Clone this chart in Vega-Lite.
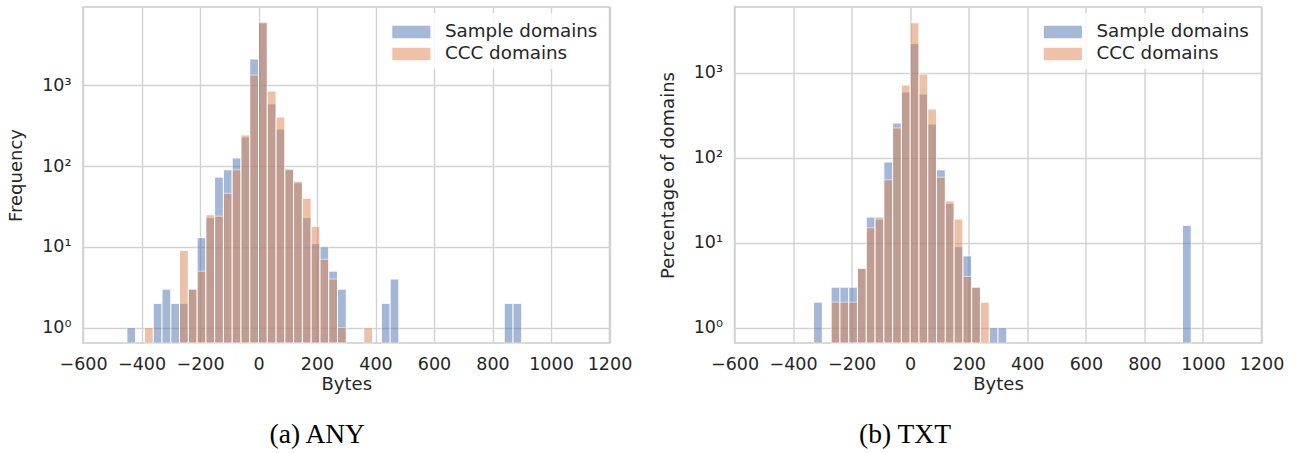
{
  "$schema": "https://vega.github.io/schema/vega-lite/v6.json",
  "background": "white",
  "padding": {"left": 6, "top": 6, "right": 0, "bottom": 0},
  "config": {
    "font": "DejaVu Sans",
    "view": {"stroke": "#cccccc", "strokeWidth": 1.5},
    "axis": {
      "grid": true,
      "gridColor": "#d2d2d2",
      "gridWidth": 1.4,
      "domain": false,
      "ticks": false,
      "tickSize": 0,
      "labelFont": "DejaVu Sans",
      "labelFontSize": 17.5,
      "labelColor": "#262626",
      "labelOverlap": false,
      "titleFont": "DejaVu Sans",
      "titleFontSize": 18,
      "titleFontWeight": "normal",
      "titleColor": "#262626"
    },
    "title": {
      "font": "Liberation Serif",
      "fontSize": 27.5,
      "fontWeight": "normal",
      "color": "#000000"
    }
  },
  "datasets": {
    "any": [
      {"set": "Sample domains", "bin_start": -450, "bin_end": -420, "count": 1},
      {"set": "Sample domains", "bin_start": -360, "bin_end": -330, "count": 2},
      {"set": "Sample domains", "bin_start": -330, "bin_end": -300, "count": 3},
      {"set": "Sample domains", "bin_start": -300, "bin_end": -270, "count": 2},
      {"set": "Sample domains", "bin_start": -270, "bin_end": -240, "count": 2},
      {"set": "Sample domains", "bin_start": -240, "bin_end": -210, "count": 3},
      {"set": "Sample domains", "bin_start": -210, "bin_end": -180, "count": 13},
      {"set": "Sample domains", "bin_start": -180, "bin_end": -150, "count": 23},
      {"set": "Sample domains", "bin_start": -150, "bin_end": -120, "count": 73},
      {"set": "Sample domains", "bin_start": -120, "bin_end": -90, "count": 90},
      {"set": "Sample domains", "bin_start": -90, "bin_end": -60, "count": 126},
      {"set": "Sample domains", "bin_start": -60, "bin_end": -30, "count": 229},
      {"set": "Sample domains", "bin_start": -30, "bin_end": 0, "count": 2115},
      {"set": "Sample domains", "bin_start": 0, "bin_end": 30, "count": 5900},
      {"set": "Sample domains", "bin_start": 30, "bin_end": 60, "count": 588},
      {"set": "Sample domains", "bin_start": 60, "bin_end": 90, "count": 288},
      {"set": "Sample domains", "bin_start": 90, "bin_end": 120, "count": 90},
      {"set": "Sample domains", "bin_start": 120, "bin_end": 150, "count": 62},
      {"set": "Sample domains", "bin_start": 150, "bin_end": 180, "count": 23},
      {"set": "Sample domains", "bin_start": 180, "bin_end": 210, "count": 11},
      {"set": "Sample domains", "bin_start": 210, "bin_end": 240, "count": 10},
      {"set": "Sample domains", "bin_start": 240, "bin_end": 270, "count": 5},
      {"set": "Sample domains", "bin_start": 270, "bin_end": 300, "count": 3},
      {"set": "Sample domains", "bin_start": 420, "bin_end": 450, "count": 2},
      {"set": "Sample domains", "bin_start": 450, "bin_end": 480, "count": 4},
      {"set": "Sample domains", "bin_start": 840, "bin_end": 870, "count": 2},
      {"set": "Sample domains", "bin_start": 870, "bin_end": 900, "count": 2},
      {"set": "CCC domains", "bin_start": -390, "bin_end": -360, "count": 1},
      {"set": "CCC domains", "bin_start": -270, "bin_end": -240, "count": 9},
      {"set": "CCC domains", "bin_start": -240, "bin_end": -210, "count": 3},
      {"set": "CCC domains", "bin_start": -210, "bin_end": -180, "count": 5},
      {"set": "CCC domains", "bin_start": -180, "bin_end": -150, "count": 25},
      {"set": "CCC domains", "bin_start": -150, "bin_end": -120, "count": 24},
      {"set": "CCC domains", "bin_start": -120, "bin_end": -90, "count": 46},
      {"set": "CCC domains", "bin_start": -90, "bin_end": -60, "count": 90},
      {"set": "CCC domains", "bin_start": -60, "bin_end": -30, "count": 243},
      {"set": "CCC domains", "bin_start": -30, "bin_end": 0, "count": 1340},
      {"set": "CCC domains", "bin_start": 0, "bin_end": 30, "count": 6070},
      {"set": "CCC domains", "bin_start": 30, "bin_end": 60, "count": 850},
      {"set": "CCC domains", "bin_start": 60, "bin_end": 90, "count": 405},
      {"set": "CCC domains", "bin_start": 90, "bin_end": 120, "count": 92},
      {"set": "CCC domains", "bin_start": 120, "bin_end": 150, "count": 65},
      {"set": "CCC domains", "bin_start": 150, "bin_end": 180, "count": 40},
      {"set": "CCC domains", "bin_start": 180, "bin_end": 210, "count": 18},
      {"set": "CCC domains", "bin_start": 210, "bin_end": 240, "count": 7},
      {"set": "CCC domains", "bin_start": 240, "bin_end": 270, "count": 4},
      {"set": "CCC domains", "bin_start": 270, "bin_end": 300, "count": 1},
      {"set": "CCC domains", "bin_start": 360, "bin_end": 390, "count": 1}
    ],
    "txt": [
      {"set": "Sample domains", "bin_start": -330, "bin_end": -300, "count": 2},
      {"set": "Sample domains", "bin_start": -270, "bin_end": -240, "count": 3},
      {"set": "Sample domains", "bin_start": -240, "bin_end": -210, "count": 3},
      {"set": "Sample domains", "bin_start": -210, "bin_end": -180, "count": 3},
      {"set": "Sample domains", "bin_start": -180, "bin_end": -150, "count": 5},
      {"set": "Sample domains", "bin_start": -150, "bin_end": -120, "count": 20},
      {"set": "Sample domains", "bin_start": -120, "bin_end": -90, "count": 20},
      {"set": "Sample domains", "bin_start": -90, "bin_end": -60, "count": 89},
      {"set": "Sample domains", "bin_start": -60, "bin_end": -30, "count": 256},
      {"set": "Sample domains", "bin_start": -30, "bin_end": 0, "count": 593},
      {"set": "Sample domains", "bin_start": 0, "bin_end": 30, "count": 2200},
      {"set": "Sample domains", "bin_start": 30, "bin_end": 60, "count": 561},
      {"set": "Sample domains", "bin_start": 60, "bin_end": 90, "count": 249},
      {"set": "Sample domains", "bin_start": 90, "bin_end": 120, "count": 72},
      {"set": "Sample domains", "bin_start": 120, "bin_end": 150, "count": 29},
      {"set": "Sample domains", "bin_start": 150, "bin_end": 180, "count": 9},
      {"set": "Sample domains", "bin_start": 180, "bin_end": 210, "count": 7},
      {"set": "Sample domains", "bin_start": 210, "bin_end": 240, "count": 3},
      {"set": "Sample domains", "bin_start": 270, "bin_end": 300, "count": 1},
      {"set": "Sample domains", "bin_start": 300, "bin_end": 330, "count": 1},
      {"set": "Sample domains", "bin_start": 930, "bin_end": 960, "count": 16},
      {"set": "CCC domains", "bin_start": -270, "bin_end": -240, "count": 2},
      {"set": "CCC domains", "bin_start": -240, "bin_end": -210, "count": 2},
      {"set": "CCC domains", "bin_start": -210, "bin_end": -180, "count": 2},
      {"set": "CCC domains", "bin_start": -180, "bin_end": -150, "count": 5},
      {"set": "CCC domains", "bin_start": -150, "bin_end": -120, "count": 15},
      {"set": "CCC domains", "bin_start": -120, "bin_end": -90, "count": 19},
      {"set": "CCC domains", "bin_start": -90, "bin_end": -60, "count": 55},
      {"set": "CCC domains", "bin_start": -60, "bin_end": -30, "count": 224},
      {"set": "CCC domains", "bin_start": -30, "bin_end": 0, "count": 716},
      {"set": "CCC domains", "bin_start": 0, "bin_end": 30, "count": 3870},
      {"set": "CCC domains", "bin_start": 30, "bin_end": 60, "count": 964},
      {"set": "CCC domains", "bin_start": 60, "bin_end": 90, "count": 374},
      {"set": "CCC domains", "bin_start": 90, "bin_end": 120, "count": 59},
      {"set": "CCC domains", "bin_start": 120, "bin_end": 150, "count": 31},
      {"set": "CCC domains", "bin_start": 150, "bin_end": 180, "count": 19},
      {"set": "CCC domains", "bin_start": 180, "bin_end": 210, "count": 4},
      {"set": "CCC domains", "bin_start": 210, "bin_end": 240, "count": 3},
      {"set": "CCC domains", "bin_start": 240, "bin_end": 270, "count": 2}
    ]
  },
  "spacing": 24.5,
  "resolve": {
    "scale": {"color": "independent", "y": "independent", "x": "independent"},
    "legend": {"color": "independent"}
  },
  "hconcat": [
    {
      "width": 526.5,
      "height": 336,
      "data": {"name": "any"},
      "title": {"text": "(a) ANY", "orient": "bottom", "anchor": "middle", "frame": "group", "dx": -29, "offset": 27},
      "mark": {"type": "bar", "opacity": 0.5, "stroke": "white", "strokeWidth": 1},
      "encoding": {
        "x": {
          "field": "bin_start", "type": "quantitative",
          "scale": {"domain": [-600, 1200], "nice": false, "zero": false},
          "axis": {"values": [-600, -400, -200, 0, 200, 400, 600, 800, 1000, 1200], "format": "d", "title": "Bytes", "labelPadding": 12, "titlePadding": 3, "labelFlush": false}
        },
        "x2": {"field": "bin_end"},
        "y": {
          "field": "count", "type": "quantitative",
          "scale": {"type": "log", "domain": [0.6457, 9311], "nice": false},
          "axis": {"values": [1, 10, 100, 1000], "labelExpr": "'10' + ['⁰','¹','²','³','⁴'][round(log(datum.value)/LN10)]", "title": "Frequency", "labelPadding": 12, "titlePadding": 16}
        },
        "y2": {"datum": 0.6457},
        "color": {
          "field": "set", "type": "nominal",
          "scale": {"domain": ["Sample domains", "CCC domains"], "range": ["#4C72B0", "#DD8452"]},
          "legend": {
            "title": null, "orient": "top-right", "offset": 6, "padding": 6,
            "fillColor": "rgba(255,255,255,0.8)",
            "symbolType": "M-1,-0.5H2V0.5H-1Z", "symbolSize": 645, "symbolOpacity": 0.5, "symbolStrokeWidth": 0,
            "labelFont": "DejaVu Sans", "labelFontSize": 18.3, "labelColor": "#262626", "labelOffset": 27, "labelLimit": 300, "rowPadding": 0
          }
        }
      }
    },
    {
      "width": 527,
      "height": 336,
      "data": {"name": "txt"},
      "title": {"text": "(b) TXT", "orient": "bottom", "anchor": "middle", "frame": "group", "dx": -93, "offset": 27},
      "mark": {"type": "bar", "opacity": 0.5, "stroke": "white", "strokeWidth": 1},
      "encoding": {
        "x": {
          "field": "bin_start", "type": "quantitative",
          "scale": {"domain": [-600, 1200], "nice": false, "zero": false},
          "axis": {"values": [-600, -400, -200, 0, 200, 400, 600, 800, 1000, 1200], "format": "d", "title": "Bytes", "labelPadding": 12, "titlePadding": 3, "labelFlush": false}
        },
        "x2": {"field": "bin_end"},
        "y": {
          "field": "count", "type": "quantitative",
          "scale": {"type": "log", "domain": [0.661, 5929], "nice": false},
          "axis": {"values": [1, 10, 100, 1000], "labelExpr": "'10' + ['⁰','¹','²','³','⁴'][round(log(datum.value)/LN10)]", "title": "Percentage of domains", "labelPadding": 12, "titlePadding": 16}
        },
        "y2": {"datum": 0.661},
        "color": {
          "field": "set", "type": "nominal",
          "scale": {"domain": ["Sample domains", "CCC domains"], "range": ["#4C72B0", "#DD8452"]},
          "legend": {
            "title": null, "orient": "top-right", "offset": 6, "padding": 6,
            "fillColor": "rgba(255,255,255,0.8)",
            "symbolType": "M-1,-0.5H2V0.5H-1Z", "symbolSize": 645, "symbolOpacity": 0.5, "symbolStrokeWidth": 0,
            "labelFont": "DejaVu Sans", "labelFontSize": 18.3, "labelColor": "#262626", "labelOffset": 27, "labelLimit": 300, "rowPadding": 0
          }
        }
      }
    }
  ]
}
